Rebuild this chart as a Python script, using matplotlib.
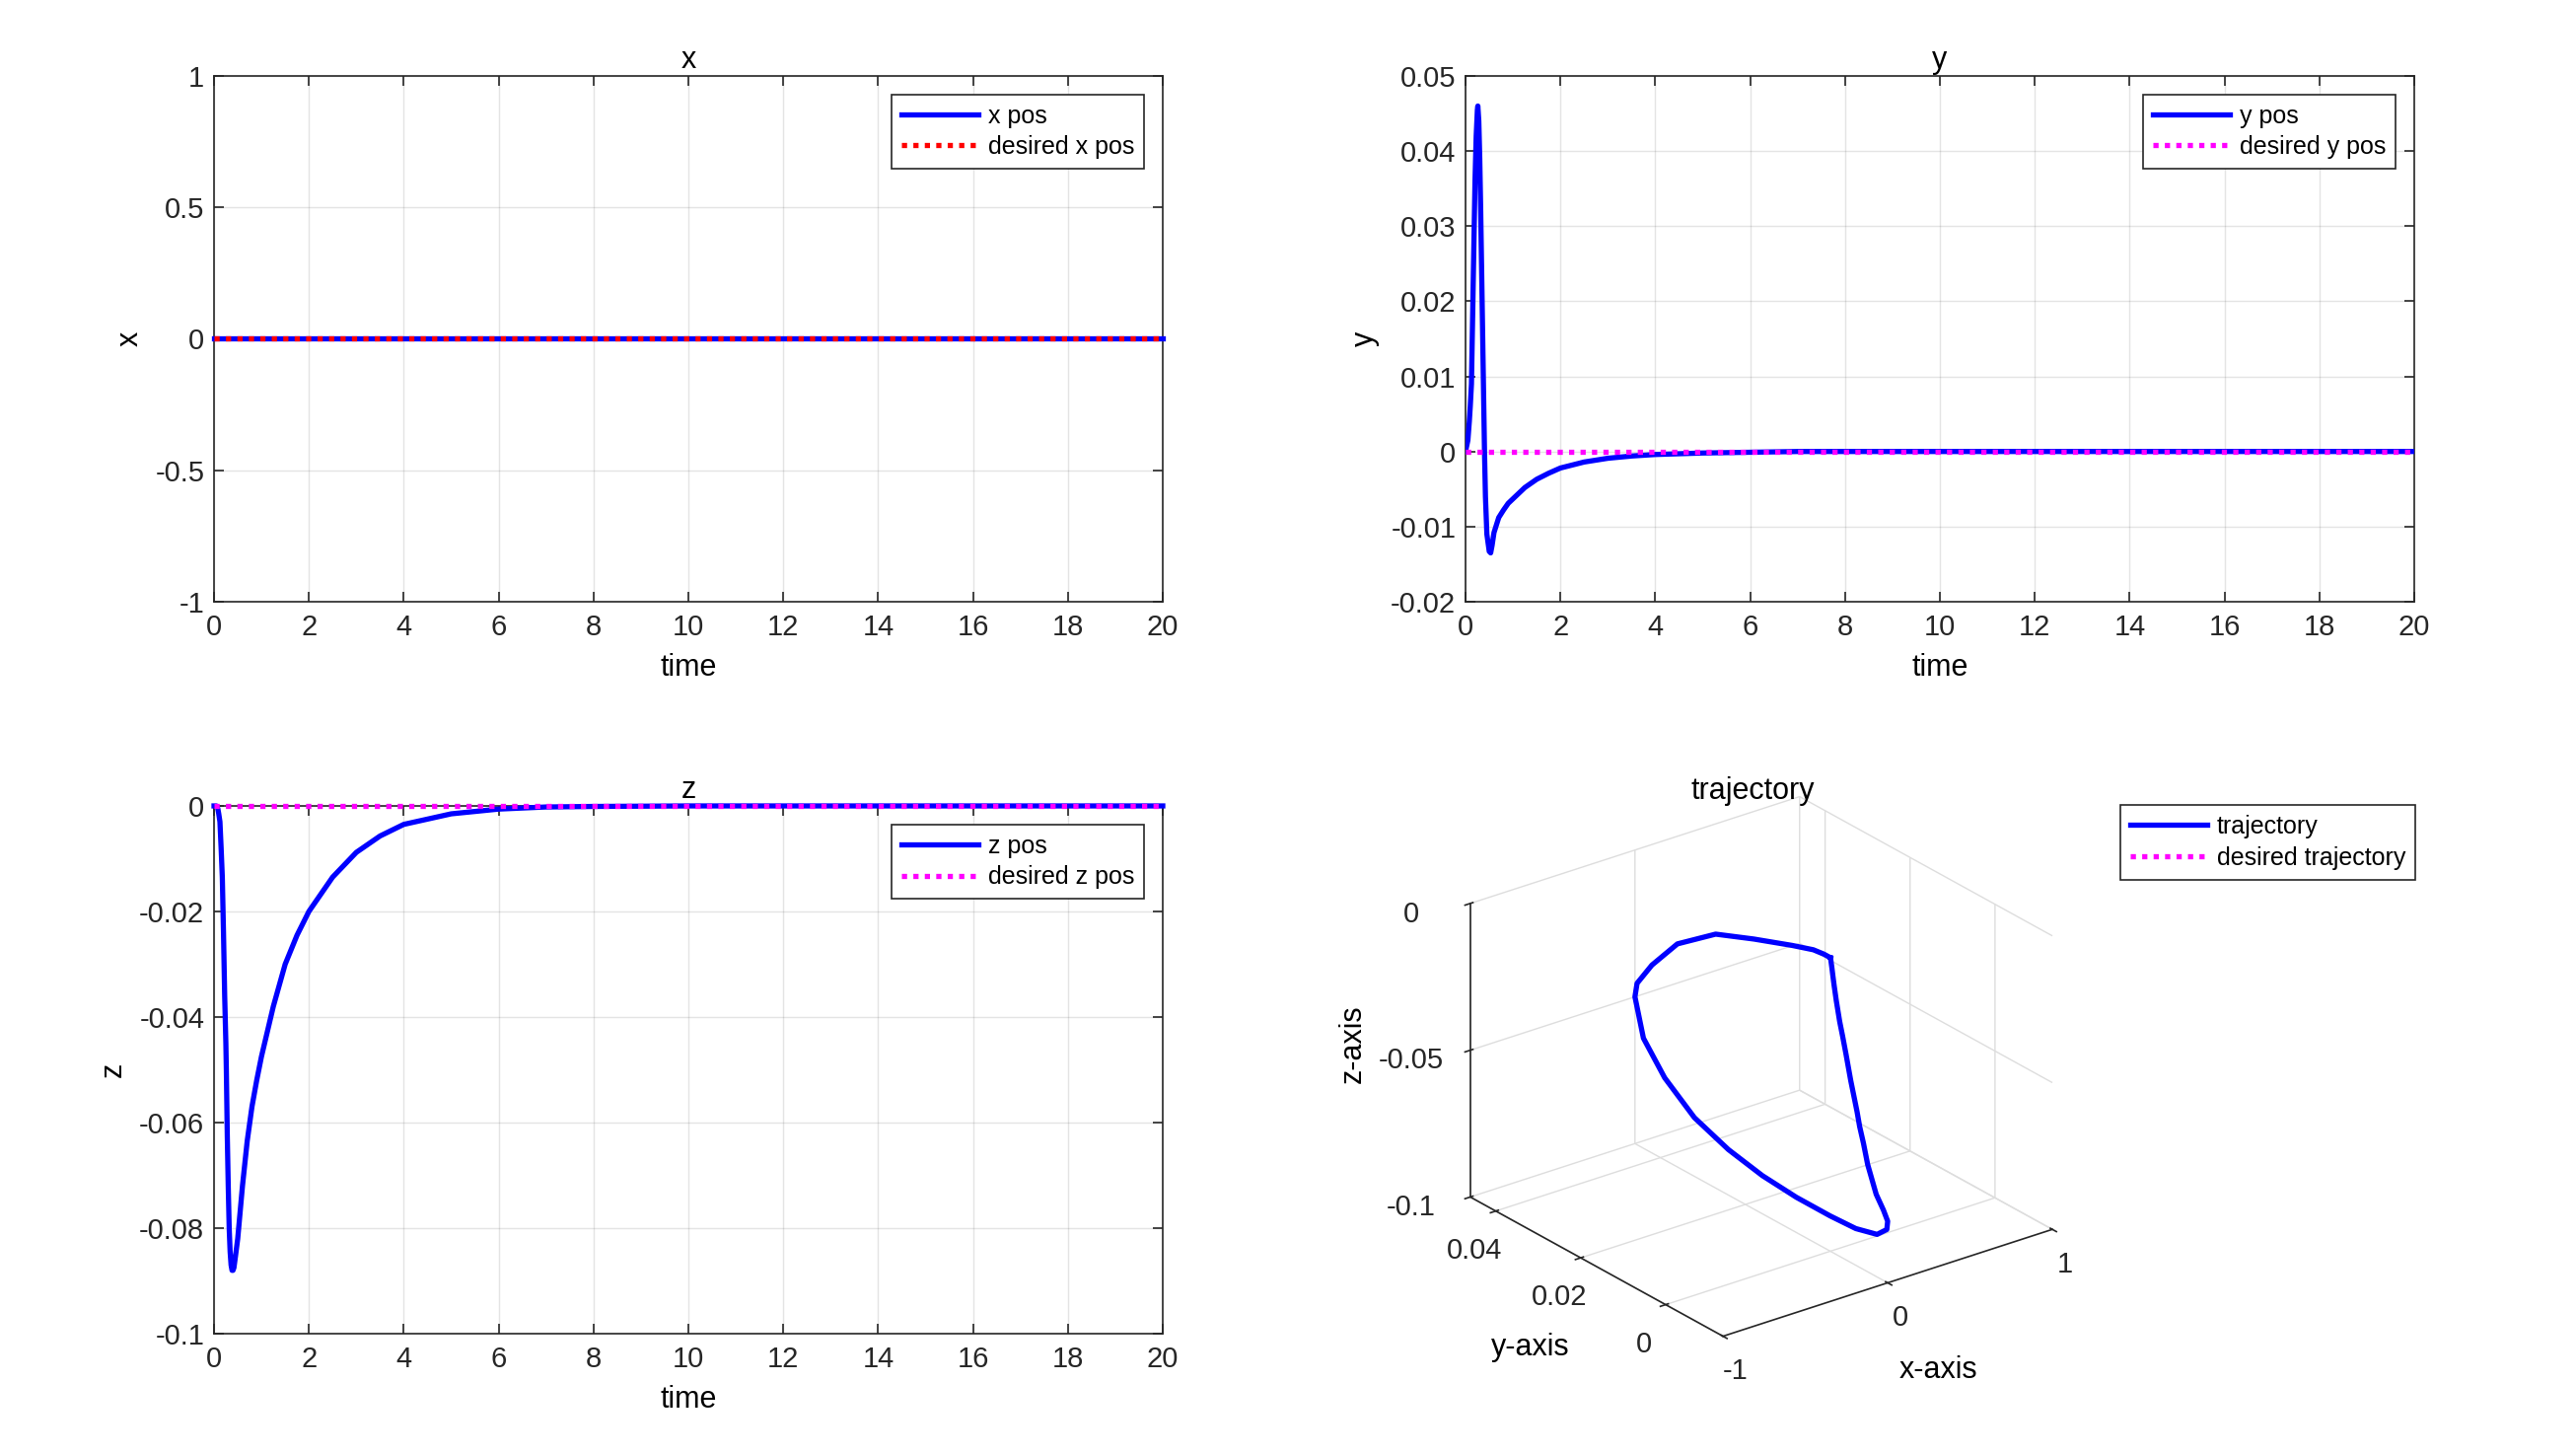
import numpy as np
import matplotlib
matplotlib.use('Agg')
import matplotlib.pyplot as plt

plt.rcParams.update({
    'font.family': ['Liberation Sans', 'DejaVu Sans'],
    'font.size': 10,
    'axes.unicode_minus': False,
    'axes.edgecolor': '#262626',
    'axes.linewidth': 0.6,
    'xtick.color': '#262626', 'ytick.color': '#262626',
    'xtick.direction': 'in', 'ytick.direction': 'in',
    'xtick.major.size': 3.5, 'ytick.major.size': 3.5,
    'xtick.major.width': 0.6, 'ytick.major.width': 0.6,
    'xtick.major.pad': 4.5,
    'xtick.top': True, 'ytick.right': True,
    'grid.color': '#262626', 'grid.alpha': 0.12, 'grid.linewidth': 0.5,
})

# time samples and read-off positions
t = [0, 0.05, 0.08, 0.10, 0.125, 0.15, 0.175, 0.20, 0.225, 0.25, 0.26, 0.28,
     0.30, 0.32, 0.34, 0.36, 0.38, 0.40, 0.42, 0.45, 0.50, 0.53, 0.56, 0.60,
     0.70, 0.80, 0.90, 1.00, 1.25, 1.50, 1.75, 2.00, 2.50, 3.00, 3.50, 4.00,
     5.00, 6.00, 7.00, 8.00, 10.0, 20.0]
x_pos = [0.0] * len(t)
y_pos = [0, 0.0015, 0.004, 0.006, 0.009, 0.018, 0.027, 0.036, 0.042, 0.0455,
         0.046, 0.044, 0.039, 0.032, 0.024, 0.016, 0.008, 0.0, -0.006, -0.011,
         -0.0133, -0.0135, -0.0125, -0.0108, -0.0088, -0.0078, -0.0069, -0.0063,
         -0.0048, -0.0037, -0.0029, -0.0022, -0.0014, -0.0009, -0.0006, -0.0004,
         -0.0002, -0.0001, 0, 0, 0, 0]
z_pos = [0, 0, -0.0005, -0.0015, -0.003, -0.008, -0.0135, -0.024, -0.036, -0.045,
         -0.050, -0.0625, -0.072, -0.080, -0.0845, -0.087, -0.088, -0.088, -0.0875,
         -0.0855, -0.082, -0.079, -0.076, -0.072, -0.0635, -0.057, -0.052, -0.0475,
         -0.038, -0.030, -0.0245, -0.020, -0.0135, -0.0088, -0.0057, -0.0035,
         -0.0015, -0.0006, -0.0002, -0.0001, 0, 0]
x_des = [0.0] * len(t)
y_des = [0.0] * len(t)
z_des = [0.0] * len(t)

time_ticks = list(range(0, 21, 2))

fig = plt.figure(figsize=(13.06, 7.375), dpi=200)

W, H = 2612, 1475
def rect(x0, y0, x1, y1):
    return [x0 / W, 1 - y1 / H, (x1 - x0) / W, (y1 - y0) / H]

BLUE, RED, MAG = '#0000ff', '#ff0000', '#ff00ff'
LW = 1.9
DOT = (0, (1, 1.2))

leg_kw = dict(fancybox=False, framealpha=1, edgecolor='#262626',
              handlelength=3.1, handletextpad=0.4, fontsize=9,
              borderpad=0.4, labelspacing=0.3)

def style2d(ax, name, ylim, yticks):
    ax.set_xlim(0, 20)
    ax.set_ylim(*ylim)
    ax.set_xticks(time_ticks)
    ax.set_yticks(yticks)
    ax.set_yticklabels([f'{v:g}' for v in yticks])
    ax.grid(True)
    ax.set_title(name, fontsize=11, pad=3)
    ax.set_xlabel('time', fontsize=11)
    ax.set_ylabel(name, fontsize=11)
    ax.tick_params(labelsize=10.5)
    leg = ax.legend(loc='upper right', borderaxespad=0.75, **leg_kw)
    leg.get_frame().set_linewidth(0.6)
    leg.set_zorder(10)

ax1 = fig.add_axes(rect(217, 77, 1179, 610))
ax1.plot(t, x_pos, color=BLUE, lw=LW, label='x pos', clip_on=False, zorder=3)
ax1.plot(t, x_des, color=RED, lw=LW, ls=DOT, label='desired x pos', clip_on=False, zorder=4)
style2d(ax1, 'x', (-1, 1), [-1, -0.5, 0, 0.5, 1])

ax2 = fig.add_axes(rect(1486, 77, 2448, 610))
ax2.plot(t, y_pos, color=BLUE, lw=LW, label='y pos', zorder=3)
ax2.plot(t, y_des, color=MAG, lw=LW, ls=DOT, label='desired y pos', clip_on=False, zorder=4)
style2d(ax2, 'y', (-0.02, 0.05), [-0.02, -0.01, 0, 0.01, 0.02, 0.03, 0.04, 0.05])

ax3 = fig.add_axes(rect(217, 817, 1179, 1352))
ax3.plot(t, z_pos, color=BLUE, lw=LW, label='z pos', clip_on=False, zorder=3)
ax3.plot(t, z_des, color=MAG, lw=LW, ls=DOT, label='desired z pos', clip_on=False, zorder=4)
style2d(ax3, 'z', (-0.1, 0), [-0.1, -0.08, -0.06, -0.04, -0.02, 0])

# 3D trajectory
ax4 = fig.add_axes(rect(1372, 760, 2182, 1420), projection='3d', proj_type='ortho')
ax4.view_init(elev=25, azim=-127.5)
ax4.set_box_aspect((1, 1, 0.78))
ax4.plot(x_pos, y_pos, z_pos, color=BLUE, lw=LW, label='trajectory')
ax4.plot(x_des, y_des, z_des, color=MAG, lw=LW, ls=DOT, label='desired trajectory')
ax4.set_xlim(-1, 1)
ax4.set_ylim(min(y_pos), max(y_pos))
ax4.set_zlim(-0.1, 0)
ax4.set_xticks([-1, 0, 1])
ax4.set_yticks([0, 0.02, 0.04])
ax4.set_zticks([-0.1, -0.05, 0])
for axis, lab in ((ax4.xaxis, 'x-axis'), (ax4.yaxis, 'y-axis')):
    axis.set_rotate_label(False)
    axis.set_label_text(lab, fontsize=11, rotation=0)
ax4.set_zlabel('z-axis', fontsize=11)
ax4.set_title('trajectory', fontsize=11, y=1.004, pad=0)
ax4.tick_params(labelsize=10.5)
ax4.tick_params(axis='x', pad=-2)
ax4.tick_params(axis='y', pad=0)
ax4.set_xticklabels(['-1', '0', '1'])
ax4.set_yticklabels(['0', '0.02', '0.04'])
ax4.set_zticklabels(['-0.1', '-0.05', '0'])
for axis in (ax4.xaxis, ax4.yaxis, ax4.zaxis):
    axis.set_pane_color((1, 1, 1, 0))
    axis._axinfo['grid'].update(color='#dddddd', linewidth=0.5)
    axis.line.set_color('#262626')
    axis.line.set_linewidth(0.6)
leg = ax4.legend(loc='upper right', bbox_to_anchor=(2449 / W, 1 - 816 / H),
                 bbox_transform=fig.transFigure, borderaxespad=0, **leg_kw)
leg.get_frame().set_linewidth(0.6)

fig.savefig('out.png', dpi=200, facecolor='white')
